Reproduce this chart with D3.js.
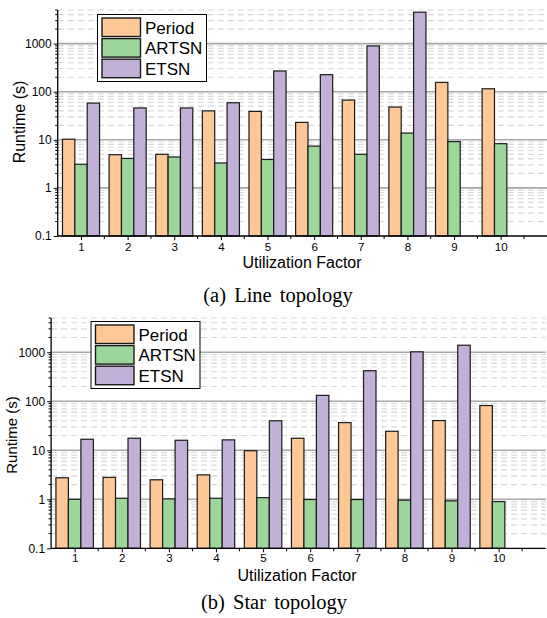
<!DOCTYPE html>
<html>
<head>
<meta charset="utf-8">
<script src="https://cdn.jsdelivr.net/npm/d3@7"></script>
<style>
  body { margin: 0; background: #fff; }
  svg { display: block; }
</style>
</head>
<body>
<svg id="chart" width="547" height="618"></svg>
<script>
// categories on the x axis
const categories = [1, 2, 3, 4, 5, 6, 7, 8, 9, 10];
const seriesNames = ["Period", "ARTSN", "ETSN"];
const seriesColors = ["#FDC896", "#9DD69B", "#C1B1D8"];
const yTicks = [0.1, 1, 10, 100, 1000];

// (a) Line topology runtimes (s)
const linePeriod = [10.3, 4.9, 5.0, 40, 39, 23, 67, 48, 156, 115];
const lineARTSN  = [3.1, 4.1, 4.4, 3.3, 3.9, 7.4, 5.0, 13.8, 9.2, 8.3];
const lineETSN   = [58, 46, 46, 59, 270, 226, 895, 4500, null, null];

// (b) Star topology runtimes (s)
const starPeriod = [2.75, 2.8, 2.5, 3.15, 9.8, 17.6, 36.7, 24.4, 40.4, 82];
const starARTSN  = [1.0, 1.05, 1.02, 1.05, 1.08, 0.99, 0.99, 0.96, 0.93, 0.9];
const starETSN   = [16.8, 17.6, 16.0, 16.3, 40, 132, 420, 1020, 1390, null];

const svg = d3.select("#chart");
const sans = "Liberation Sans, Arial, sans-serif";

function drawPanel(cfg) {
  const g = svg.append("g");
  const x = d3.scaleLinear().domain([0.5, 11]).range([cfg.left, cfg.right]);
  const y = d3.scaleLog().domain([0.1, 5000]).range([cfg.bottom, cfg.top]);
  const step = x(2) - x(1);
  const bw = step * 0.265;

  // minor grid (dashed)
  const minors = [];
  [0.1, 1, 10, 100, 1000].forEach(d => {
    for (let k = 2; k <= 9; k++) {
      const v = d * k;
      if (v <= 5000) minors.push(v);
    }
  });
  g.selectAll(".minor").data(minors).join("line")
    .attr("x1", cfg.left).attr("x2", cfg.right)
    .attr("y1", d => y(d)).attr("y2", d => y(d))
    .attr("stroke", "#d9d9d9").attr("stroke-width", 1.2)
    .attr("stroke-dasharray", "6,4");

  // major grid
  g.selectAll(".major").data(yTicks.slice(1)).join("line")
    .attr("x1", cfg.left).attr("x2", cfg.right)
    .attr("y1", d => y(d)).attr("y2", d => y(d))
    .attr("stroke", "#a8a8a8").attr("stroke-width", 1.6);

  // bars
  const series = [cfg.period, cfg.artsn, cfg.etsn];
  series.forEach((vals, si) => {
    const rows = categories.map((c, i) => ({ c, v: vals[i] })).filter(d => d.v != null);
    g.selectAll(".bar" + si).data(rows).join("rect")
      .attr("x", d => x(d.c) + (si - 1.5) * bw)
      .attr("width", bw)
      .attr("y", d => y(d.v))
      .attr("height", d => y(0.1) - y(d.v))
      .attr("fill", seriesColors[si])
      .attr("stroke", "#1a1a1a").attr("stroke-width", 1.2);
  });

  // y axis
  const yAxis = d3.axisLeft(y).tickValues(yTicks).tickFormat(d => String(d)).tickSize(4).tickPadding(2);
  const ya = g.append("g").attr("transform", `translate(${cfg.left},0)`).call(yAxis);
  ya.select(".domain").attr("d", `M0,${cfg.top}V${cfg.bottom}`).attr("stroke", "#000").attr("stroke-width", 1.3);
  ya.selectAll("text").attr("font-family", sans).attr("font-size", 12).attr("fill", "#000");
  g.selectAll(".ymin").data(minors).join("line")
    .attr("x1", cfg.left - 2.5).attr("x2", cfg.left)
    .attr("y1", d => y(d)).attr("y2", d => y(d))
    .attr("stroke", "#000").attr("stroke-width", 1);

  // x axis
  const xAxis = d3.axisBottom(x).tickValues(categories).tickFormat(d => d).tickSize(4).tickPadding(cfg.xPad);
  const xa = g.append("g").attr("transform", `translate(0,${cfg.bottom})`).call(xAxis);
  xa.select(".domain").attr("d", `M${cfg.left},0H${cfg.right}`).attr("stroke", "#000").attr("stroke-width", 1.3);
  xa.selectAll("text").attr("font-family", sans).attr("font-size", 11.5).attr("fill", "#000");
  const halfTicks = d3.range(1.5, 11, 1);
  g.selectAll(".xmin").data(halfTicks).join("line")
    .attr("x1", d => x(d)).attr("x2", d => x(d))
    .attr("y1", cfg.bottom).attr("y2", cfg.bottom + 3)
    .attr("stroke", "#000").attr("stroke-width", 1);

  // axis titles
  g.append("text")
    .attr("transform", `translate(${cfg.yTitleX},${cfg.yTitleY}) rotate(-90)`)
    .attr("text-anchor", "middle")
    .attr("font-family", sans)
    .attr("font-size", cfg.yTitleSize)
    .text("Runtime (s)");
  g.append("text")
    .attr("x", cfg.xTitleX).attr("y", cfg.xTitleY)
    .attr("text-anchor", "middle")
    .attr("font-family", sans)
    .attr("font-size", 16)
    .text("Utilization Factor");

  // legend
  const lg = g.append("g");
  lg.append("rect")
    .attr("x", cfg.legX).attr("y", cfg.legY)
    .attr("width", 109).attr("height", 67)
    .attr("fill", "#fff").attr("stroke", "#000").attr("stroke-width", 1);
  seriesNames.forEach((name, i) => {
    lg.append("rect")
      .attr("x", cfg.legX + 4.5).attr("y", cfg.legY + 3.5 + i * 20.6)
      .attr("width", 38.5).attr("height", 18.5)
      .attr("fill", seriesColors[i]).attr("stroke", "#1a1a1a").attr("stroke-width", 1.4);
    lg.append("text")
      .attr("x", cfg.legX + 47.5).attr("y", cfg.legY + 19 + i * 20.6)
      .attr("font-family", sans)
      .attr("font-size", 17)
      .text(name);
  });

  // caption
  g.append("text")
    .attr("x", cfg.capX).attr("y", cfg.capY)
    .attr("text-anchor", "middle")
    .attr("font-family", "Liberation Serif, Times New Roman, serif")
    .attr("font-size", 20.5)
    .attr("word-spacing", 3)
    .text(cfg.caption);
}

drawPanel({
  left: 57.7, right: 547.3, top: 10, bottom: 236,
  period: linePeriod, artsn: lineARTSN, etsn: lineETSN,
  yTitleX: 25, yTitleY: 122, yTitleSize: 16, xPad: 3,
  xTitleX: 302, xTitleY: 268,
  legX: 97.5, legY: 14.5,
  capX: 278, capY: 302, caption: "(a) Line topology"
});

drawPanel({
  left: 51.1, right: 545.7, top: 318, bottom: 548.3,
  period: starPeriod, artsn: starARTSN, etsn: starETSN,
  yTitleX: 16.5, yTitleY: 435, yTitleSize: 15, xPad: 2,
  xTitleX: 297, xTitleY: 580.5,
  legX: 91, legY: 321.5,
  capX: 274, capY: 608.5, caption: "(b) Star topology"
});
</script>
</body>
</html>
